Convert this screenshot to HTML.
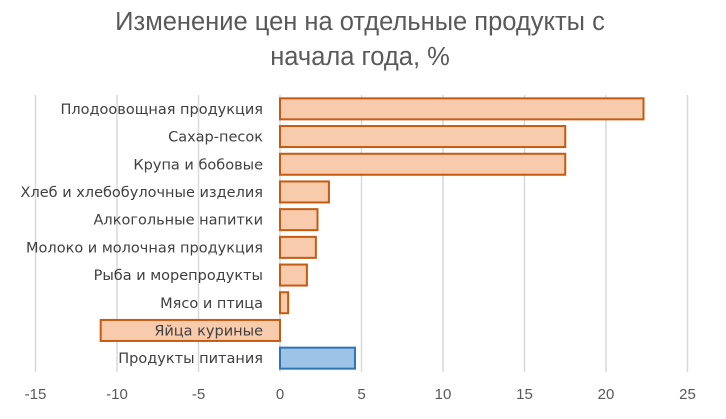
<!DOCTYPE html>
<html><head><meta charset="utf-8"><style>
body{margin:0;background:#fff;font-family:"Liberation Sans","DejaVu Sans",sans-serif;}
</style></head><body>
<svg id="chart" width="726" height="414" xmlns="http://www.w3.org/2000/svg">
<text x="360" y="30" text-anchor="middle" font-size="25.5" fill="#595959">Изменение цен на отдельные продукты с</text>
<text x="360" y="65" text-anchor="middle" font-size="25.5" fill="#595959">начала года, %</text>
<g id="grid"></g><g id="bars"></g><g id="labels"></g><g id="ticks"></g>
</svg>
<script>
const categories=["Плодоовощная продукция","Сахар-песок","Крупа и бобовые","Хлеб и хлебобулочные изделия","Алкогольные напитки","Молоко и молочная продукция","Рыба и морепродукты","Мясо и птица","Яйца куриные","Продукты питания"];
const values=[22.3,17.5,17.5,3.0,2.3,2.2,1.65,0.5,-11.0,4.6];
const tickValues=[-15,-10,-5,0,5,10,15,20,25];
const ns="http://www.w3.org/2000/svg";
const x0=35.5,x1=687.5,xmin=-15,xmax=25,yTop=95,yBottom=372;
const xs=v=>x0+(v-xmin)/(xmax-xmin)*(x1-x0);
const rowH=(yBottom-yTop)/categories.length;
const ys=i=>yTop+rowH*i+rowH/2;
function mk(t,a,p){const e=document.createElementNS(ns,t);for(const k in a)e.setAttribute(k,a[k]);p.appendChild(e);return e;}
const g=document.getElementById('grid'),b=document.getElementById('bars'),l=document.getElementById('labels'),tk=document.getElementById('ticks');
tickValues.forEach(v=>{
 const ln=mk('line',{x1:xs(v),x2:xs(v),y1:yTop,y2:yBottom,stroke:'#D9D9D9','stroke-width':1.5},g);
 
 
 const t=mk('text',{x:xs(v),y:399,'text-anchor':'middle','font-size':15,fill:'#595959'},tk);
 t.textContent=v;
 
 
});
categories.forEach((c,i)=>{
 const v=values[i],last=i===categories.length-1;
 const xa=Math.min(xs(0),xs(v)),w=Math.abs(xs(v)-xs(0));
 const r=mk('rect',{x:xa,y:ys(i)-10.5,width:w,height:21,fill:last?'#9DC3E6':'#F8CBAD',stroke:last?'#2E75B6':'#C55A11','stroke-width':2},b);
 
 
 const t=mk('text',{x:263,y:ys(i)+5,'text-anchor':'end','font-size':14.5,'font-family':'DejaVu Sans, sans-serif',fill:'#404040'},l);
 t.textContent=c;
 
 
});
</script>
</body></html>
